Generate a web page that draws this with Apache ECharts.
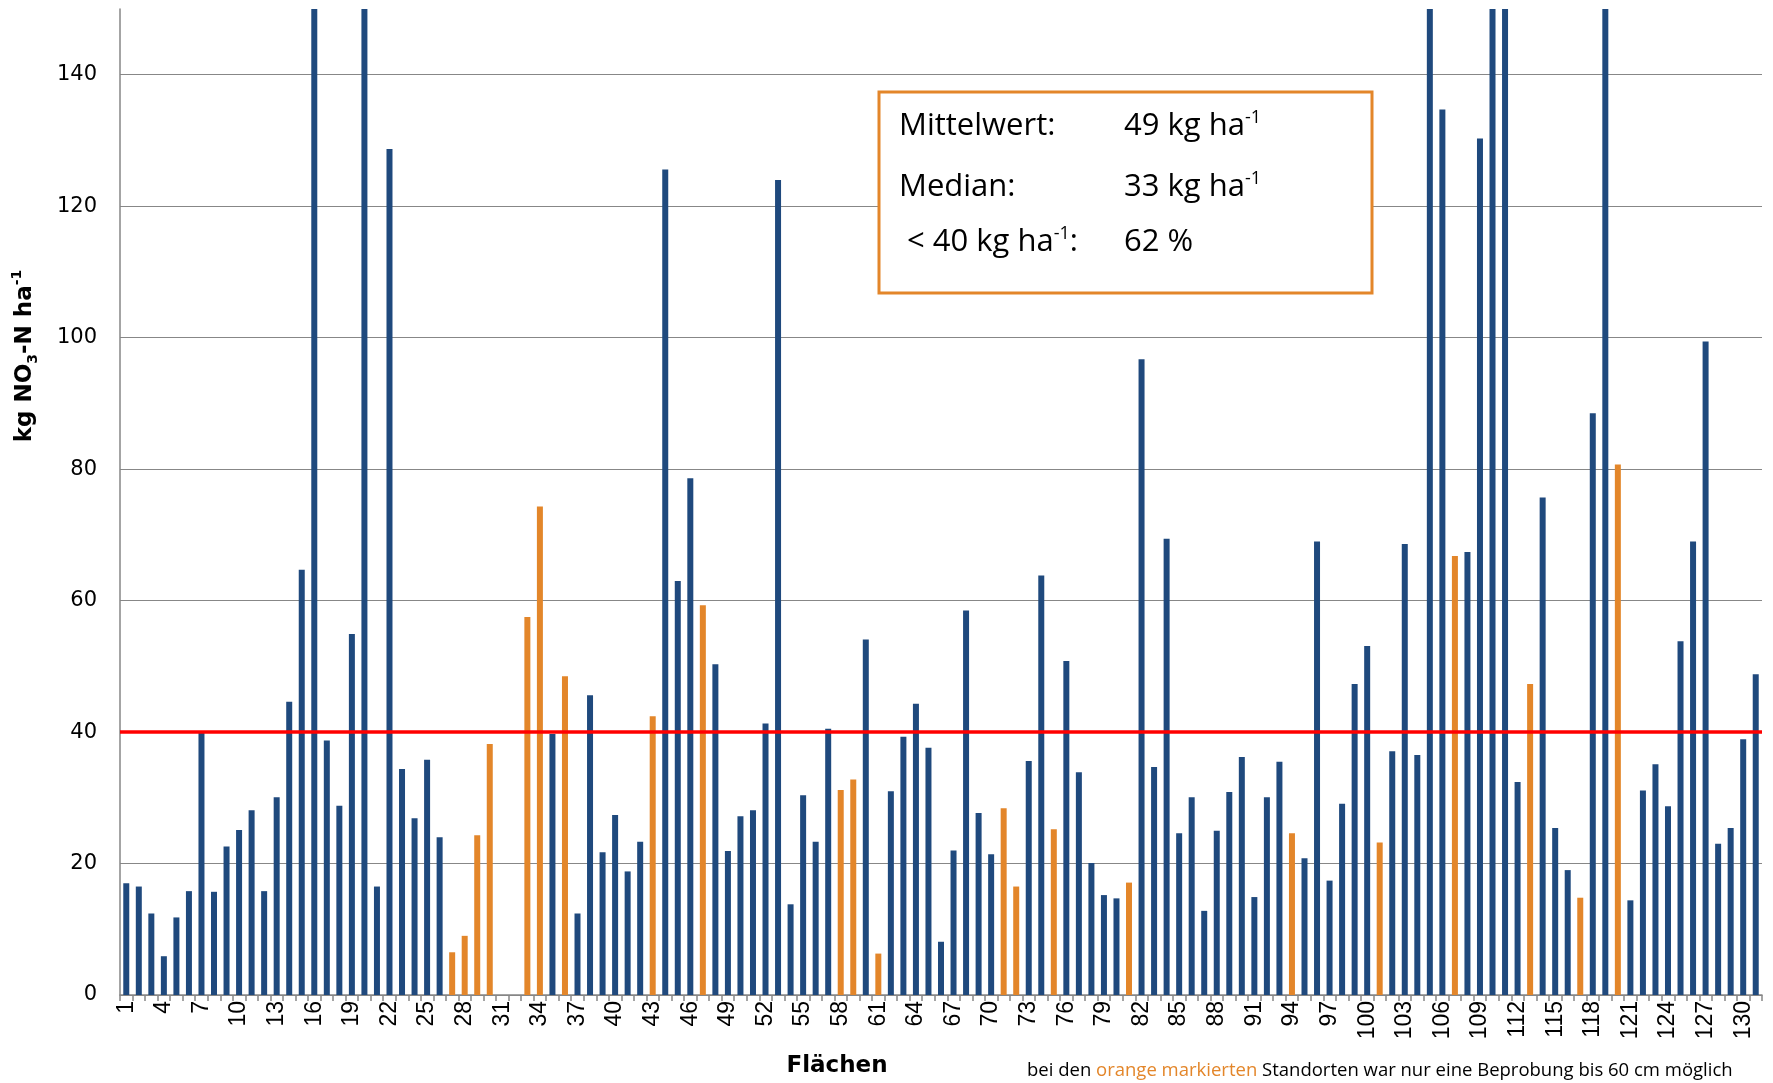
<!DOCTYPE html>
<html>
<head>
<meta charset="utf-8">
<script src="https://cdn.jsdelivr.net/npm/echarts@6/dist/echarts.min.js"></script>
<style>
html, body { margin: 0; padding: 0; background: #fff; }
#main { width: 1773px; height: 1083px; }
</style>
</head>
<body>
<div id="main"></div>
<script>
var myChart = echarts.init(document.getElementById('main'));

// Flächen 1..131
var flaechen = [];
for (var i = 1; i <= 131; i++) {
    flaechen.push(String(i));
}

// kg NO3-N ha-1 je Fläche (über 150 abgeschnitten -> geschätzt)
var werte = [
    17.0, 16.5, 12.4, 5.9, 11.8, 15.8, 39.9, 15.7, 22.6, 25.1,
    28.1, 15.8, 30.1, 44.6, 64.7, 230, 38.7, 28.8, 54.9, 310,
    16.5, 128.7, 34.4, 26.9, 35.8, 24.0, 6.5, 9.0, 24.3, 38.2,
    null, null, 57.5, 74.3, 39.7, 48.5, 12.4, 45.6, 21.7, 27.4,
    18.8, 23.3, 42.4, 125.6, 63.0, 78.6, 59.3, 50.3, 21.9, 27.2,
    28.1, 41.3, 124.0, 13.8, 30.4, 23.3, 40.5, 31.2, 32.8, 54.1,
    6.3, 31.0, 39.3, 44.3, 37.6, 8.1, 22.0, 58.5, 27.7, 21.4,
    28.4, 16.5, 35.6, 63.8, 25.2, 50.8, 33.9, 20.1, 15.2, 14.7,
    17.1, 96.7, 34.7, 69.4, 24.6, 30.1, 12.8, 25.0, 30.9, 36.2,
    14.9, 30.1, 35.5, 24.6, 20.8, 69.0, 17.4, 29.1, 47.3, 53.1,
    23.2, 37.1, 68.6, 36.5, 260, 134.7, 66.8, 67.4, 130.3, 240,
    280, 32.4, 47.3, 75.7, 25.4, 19.0, 14.8, 88.5, 175, 80.7,
    14.4, 31.1, 35.1, 28.7, 53.8, 69.0, 99.4, 23.0, 25.4, 38.9,
    48.8
];

// Standorte mit Beprobung nur bis 60 cm
var orangeFlaechen = [27, 28, 29, 30, 33, 34, 36, 43, 47, 58, 59, 61, 71, 72, 75, 81, 94, 101, 107, 113, 117, 120];

var grenzwert = 40;

// Kennwerte im Kasten: [links, rechts]
var kennwerte = [
    ['{t|Mittelwert:}', '{t|49 kg ha}{s|-1}'],
    ['{t|Median:}', '{t|33 kg ha}{s|-1}'],
    ['{t| < 40 kg ha}{s|-1}{t|:}', '{t|62 %}']
];

var blau = '#1f497d';
var orange = '#e3862a';

var barData = werte.map(function (v, i) {
    var isOrange = orangeFlaechen.indexOf(i + 1) >= 0;
    return { value: v, itemStyle: { color: isOrange ? orange : blau } };
});

var boxFont = 'Open Sans';
var boxRich = {
    t: { fontFamily: boxFont, fontSize: 31, fill: '#000', lineHeight: 36, verticalAlign: 'bottom' },
    s: { fontFamily: boxFont, fontSize: 18, fill: '#000', lineHeight: 22, verticalAlign: 'top', padding: [3, 0, 0, 0] }
};

var boxTexts = [];
var rowY = [124, 185, 240];
kennwerte.forEach(function (row, k) {
    boxTexts.push({
        type: 'text', x: 899, y: rowY[k], z: 101,
        style: { text: row[0], rich: boxRich, verticalAlign: 'middle', align: 'left' }
    });
    boxTexts.push({
        type: 'text', x: 1124, y: rowY[k], z: 101,
        style: { text: row[1], rich: boxRich, verticalAlign: 'middle', align: 'left' }
    });
});

var option = {
    backgroundColor: '#fff',
    animation: false,
    grid: { left: 120, right: 11, top: 9, bottom: 88 },
    xAxis: {
        type: 'category',
        data: flaechen,
        boundaryGap: true,
        axisLine: { lineStyle: { color: '#868686', width: 1.5 } },
        axisTick: { show: true, interval: 0, length: 6, lineStyle: { color: '#868686', width: 1.5 } },
        axisLabel: {
            interval: 2,
            rotate: 90,
            margin: 6,
            fontFamily: 'Liberation Sans',
            fontSize: 23,
            color: '#000'
        }
    },
    yAxis: {
        type: 'value',
        min: 0,
        max: 150,
        interval: 20,
        axisLine: { show: true, lineStyle: { color: '#868686', width: 1.5 } },
        axisTick: { show: false },
        splitLine: { showMaxLine: false, lineStyle: { color: '#878787', width: 1.2 } },
        axisLabel: {
            showMaxLabel: false,
            fontFamily: 'DejaVu Sans',
            fontSize: 21,
            color: '#000',
            margin: 23
        }
    },
    series: [{
        type: 'bar',
        data: barData,
        barWidth: 6,
        markLine: {
            silent: true,
            symbol: 'none',
            label: { show: false },
            lineStyle: { color: '#ff0000', width: 3.5, type: 'solid' },
            data: [{ yAxis: grenzwert }]
        }
    }],
    graphic: [
        {
            type: 'text', x: 25, y: 356, rotation: Math.PI / 2,
            style: {
                text: '{b|kg NO}{sub|3}{b|-N ha}{sup|-1}',
                align: 'center', verticalAlign: 'middle',
                rich: {
                    b: { fontFamily: 'DejaVu Sans', fontWeight: 'bold', fontSize: 23, fill: '#000', lineHeight: 30, verticalAlign: 'middle' },
                    sub: { fontFamily: 'DejaVu Sans', fontWeight: 'bold', fontSize: 14, fill: '#000', lineHeight: 16, verticalAlign: 'bottom' },
                    sup: { fontFamily: 'DejaVu Sans', fontWeight: 'bold', fontSize: 14, fill: '#000', lineHeight: 16, verticalAlign: 'top' }
                }
            }
        },
        {
            type: 'text', x: 837, y: 1066,
            style: {
                text: 'Flächen', align: 'center', verticalAlign: 'middle',
                fontFamily: 'DejaVu Sans', fontWeight: 'bold', fontSize: 23, fill: '#000'
            }
        },
        {
            type: 'text', x: 1027, y: 1071,
            style: {
                text: '{n|bei den }{o|orange markierten}{n| Standorten war nur eine Beprobung bis 60 cm möglich}',
                align: 'left', verticalAlign: 'middle',
                rich: {
                    n: { fontFamily: 'Open Sans', fontSize: 18.5, fill: '#000' },
                    o: { fontFamily: 'Open Sans', fontSize: 18.5, fill: orange }
                }
            }
        },
        {
            type: 'rect', z: 100,
            shape: { x: 879, y: 92, width: 493, height: 201 },
            style: { fill: '#fff', stroke: orange, lineWidth: 3 }
        }
    ].concat(boxTexts)
};

myChart.setOption(option);
</script>
</body>
</html>
